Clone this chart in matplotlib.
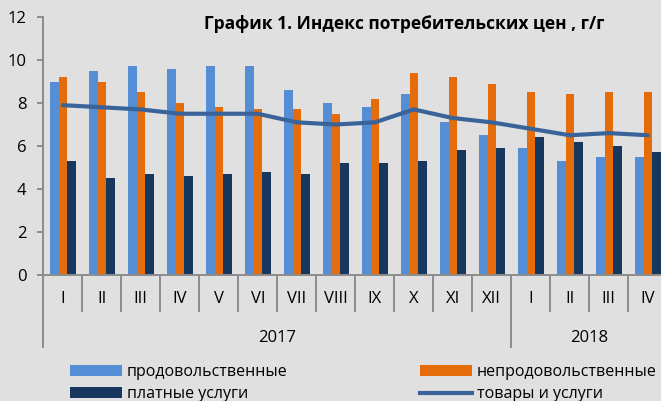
import matplotlib
matplotlib.use("Agg")
import matplotlib.pyplot as plt
import numpy as np
from matplotlib.lines import Line2D
from matplotlib.patches import Patch

# CPI year-on-year, %
months = ["I", "II", "III", "IV", "V", "VI", "VII", "VIII", "IX", "X", "XI", "XII",
          "I", "II", "III", "IV"]
year_labels = ["2017", "2018"]
year_lengths = [12, 4]
food = [9.0, 9.5, 9.7, 9.6, 9.7, 9.7, 8.6, 8.0, 7.8, 8.4, 7.1, 6.5, 5.9, 5.3, 5.5, 5.5]
nonfood = [9.2, 9.0, 8.5, 8.0, 7.8, 7.7, 7.7, 7.5, 8.2, 9.4, 9.2, 8.9, 8.5, 8.4, 8.5, 8.5]
services = [5.3, 4.5, 4.7, 4.6, 4.7, 4.8, 4.7, 5.2, 5.2, 5.3, 5.8, 5.9, 6.4, 6.2, 6.0, 5.7]
total = [7.9, 7.8, 7.7, 7.5, 7.5, 7.5, 7.1, 7.0, 7.1, 7.7, 7.3, 7.1, 6.8, 6.5, 6.6, 6.5]

BG = "#E0E0E0"
AXIS = "#8C8C8C"
C_FOOD = "#558ED5"
C_NONFOOD = "#E46C0A"
C_SERV = "#17375E"
C_LINE = "#3A6499"

plt.rcParams["font.family"] = ["Open Sans", "DejaVu Sans"]

W, H = 661, 401
fig = plt.figure(figsize=(W / 100, H / 100), dpi=100, facecolor=BG)
ax_left, ax_bottom, ax_top = 43.3, 275, 17
ax = fig.add_axes([ax_left / W, 1 - ax_bottom / H, 1 - ax_left / W, (ax_bottom - ax_top) / H])
ax.set_facecolor(BG)

x = np.arange(len(months))
w = 0.22
ax.bar(x - w, food, w, color=C_FOOD)
ax.bar(x, nonfood, w, color=C_NONFOOD)
ax.bar(x + w, services, w, color=C_SERV)
ax.plot(x, total, color=C_LINE, lw=3, solid_capstyle="round")

group_px = 39.0
xmax = -0.5 + (W - ax_left) / group_px
ax.set_xlim(-0.5, xmax)
ax.set_ylim(0, 12)
ax.set_yticks(range(0, 13, 2))
ax.set_xticks([])
for s in ["top", "right"]:
    ax.spines[s].set_visible(False)
for s in ["left", "bottom"]:
    ax.spines[s].set_color(AXIS)
    ax.spines[s].set_linewidth(1.4)
ax.tick_params(axis="y", length=4, width=1.4, color=AXIS, pad=8, labelsize=12)

# multi-level category axis
ah = ax_bottom - ax_top
tr = ax.get_xaxis_transform()
year_starts = np.concatenate([[0], np.cumsum(year_lengths)])
for b in range(len(months) + 1):
    xb = b - 0.5
    if xb > xmax:
        continue
    depth = 73 if b in year_starts else 37
    ax.plot([xb, xb], [0, -depth / ah], transform=tr, color=AXIS, lw=1.4,
            clip_on=False, solid_capstyle="butt")
for i, m in enumerate(months):
    ax.text(i, -24 / ah, m, transform=tr, ha="center", va="center", fontsize=12)
for lab, s, n in zip(year_labels, year_starts[:-1], year_lengths):
    ax.text(s + (n - 1) / 2, -63 / ah, lab, transform=tr, ha="center", va="center",
            fontsize=12)

fig.text(404 / W, 1 - 29 / H, "График 1. Индекс потребительских цен , г/г",
         ha="center", va="baseline", fontsize=12.5, fontweight="bold")

handles = [
    Patch(facecolor=C_FOOD, label="продовольственные"),
    Patch(facecolor=C_SERV, label="платные услуги"),
    Patch(facecolor=C_NONFOOD, label="непродовольственные"),
    Line2D([], [], color=C_LINE, lw=3, label="товары и услуги"),
]
fig.legend(handles=handles, ncol=2, loc="upper left",
           bbox_to_anchor=(70 / W, 1 - 364 / H), frameon=False, fontsize=11.5,
           handlelength=3.25, handletextpad=0.3, columnspacing=8.3,
           borderpad=0, borderaxespad=0, labelspacing=0.4)

fig.savefig("out.png", dpi=100, facecolor=BG)
